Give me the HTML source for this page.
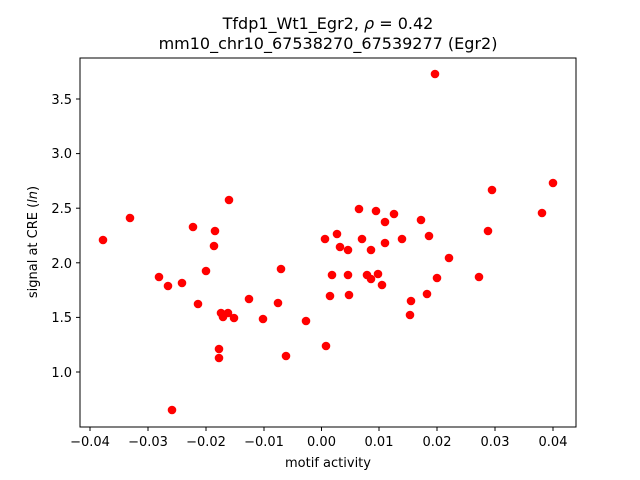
<!DOCTYPE html>
<html><head><style>body{margin:0;background:#fff}svg{display:block}text{font-family:"DejaVu Sans","Liberation Sans",sans-serif;fill:#000}</style></head>
<body>
<svg width="640" height="480" viewBox="0 0 640 480" xmlns="http://www.w3.org/2000/svg">
<rect width="640" height="480" fill="#fff"/>
<text x="328" y="29" font-size="16" text-anchor="middle">Tfdp1_Wt1_Egr2, <tspan font-style="italic">ρ</tspan> = 0.42</text>
<text x="328" y="49" font-size="16" text-anchor="middle">mm10_chr10_67538270_67539277 (Egr2)</text>
<g fill="#f00">
<circle cx="103" cy="240" r="4.3"/><circle cx="130" cy="218" r="4.3"/><circle cx="159" cy="277" r="4.3"/><circle cx="168" cy="286" r="4.3"/><circle cx="182" cy="283" r="4.3"/><circle cx="193" cy="227" r="4.3"/><circle cx="198" cy="304" r="4.3"/><circle cx="206" cy="271" r="4.3"/><circle cx="214" cy="246" r="4.3"/><circle cx="215" cy="231" r="4.3"/><circle cx="221" cy="313" r="4.3"/><circle cx="228" cy="313" r="4.3"/><circle cx="223" cy="317" r="4.3"/><circle cx="234" cy="318" r="4.3"/><circle cx="219" cy="349" r="4.3"/><circle cx="219" cy="358" r="4.3"/><circle cx="229" cy="200" r="4.3"/><circle cx="249" cy="299" r="4.3"/><circle cx="263" cy="319" r="4.3"/><circle cx="278" cy="303" r="4.3"/><circle cx="281" cy="269" r="4.3"/><circle cx="286" cy="356" r="4.3"/><circle cx="306" cy="321" r="4.3"/><circle cx="326" cy="346" r="4.3"/>
<circle cx="359" cy="209" r="4.3"/><circle cx="376" cy="211" r="4.3"/><circle cx="394" cy="214" r="4.3"/><circle cx="385" cy="222" r="4.3"/><circle cx="421" cy="220" r="4.3"/><circle cx="325" cy="239" r="4.3"/><circle cx="337" cy="234" r="4.3"/><circle cx="362" cy="239" r="4.3"/><circle cx="385" cy="243" r="4.3"/><circle cx="402" cy="239" r="4.3"/><circle cx="429" cy="236" r="4.3"/><circle cx="340" cy="247" r="4.3"/><circle cx="348" cy="250" r="4.3"/><circle cx="371" cy="250" r="4.3"/><circle cx="449" cy="258" r="4.3"/><circle cx="332" cy="275" r="4.3"/><circle cx="348" cy="275" r="4.3"/><circle cx="367" cy="275" r="4.3"/><circle cx="378" cy="274" r="4.3"/><circle cx="371" cy="279" r="4.3"/><circle cx="437" cy="278" r="4.3"/><circle cx="382" cy="285" r="4.3"/><circle cx="330" cy="296" r="4.3"/><circle cx="349" cy="295" r="4.3"/><circle cx="427" cy="294" r="4.3"/><circle cx="411" cy="301" r="4.3"/><circle cx="410" cy="315" r="4.3"/>
<circle cx="435" cy="74" r="4.3"/><circle cx="479" cy="277" r="4.3"/><circle cx="488" cy="231" r="4.3"/><circle cx="492" cy="190" r="4.3"/><circle cx="542" cy="213" r="4.3"/><circle cx="553" cy="183" r="4.3"/><circle cx="172" cy="410" r="4.3"/>
</g>
<rect x="80" y="58" width="496" height="369" fill="none" stroke="#000" stroke-width="1"/>
<g stroke="#000" stroke-width="1">
<line x1="90" y1="427" x2="90" y2="431"/><line x1="148" y1="427" x2="148" y2="431"/><line x1="206" y1="427" x2="206" y2="431"/><line x1="264" y1="427" x2="264" y2="431"/><line x1="321.5" y1="427" x2="321.5" y2="431"/><line x1="379" y1="427" x2="379" y2="431"/><line x1="437" y1="427" x2="437" y2="431"/><line x1="495" y1="427" x2="495" y2="431"/><line x1="553" y1="427" x2="553" y2="431"/>
<line x1="76" y1="372" x2="80" y2="372"/><line x1="76" y1="317.4" x2="80" y2="317.4"/><line x1="76" y1="262.8" x2="80" y2="262.8"/><line x1="76" y1="208.2" x2="80" y2="208.2"/><line x1="76" y1="153.6" x2="80" y2="153.6"/><line x1="76" y1="99" x2="80" y2="99"/>
</g>
<g font-size="13" text-anchor="middle">
<text x="90" y="446">−0.04</text><text x="148" y="446">−0.03</text><text x="206" y="446">−0.02</text><text x="264" y="446">−0.01</text><text x="321.5" y="446">0.00</text><text x="379" y="446">0.01</text><text x="437" y="446">0.02</text><text x="495" y="446">0.03</text><text x="553" y="446">0.04</text>
</g>
<g font-size="13" text-anchor="end">
<text x="72" y="377">1.0</text><text x="72" y="322">1.5</text><text x="72" y="268">2.0</text><text x="72" y="213">2.5</text><text x="72" y="158">3.0</text><text x="72" y="104">3.5</text>
</g>
<text x="328" y="467" font-size="13" text-anchor="middle">motif activity</text>
<text transform="translate(37,242) rotate(-90)" font-size="13" text-anchor="middle">signal at CRE (<tspan font-style="italic">ln</tspan>)</text>
</svg>
</body></html>
